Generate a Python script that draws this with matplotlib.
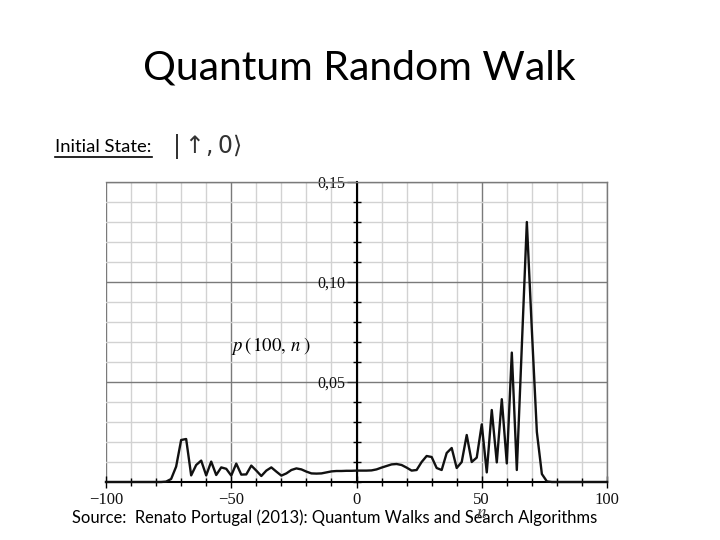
import matplotlib
matplotlib.use("Agg")
import matplotlib.pyplot as plt
from matplotlib.lines import Line2D
from matplotlib.ticker import MultipleLocator, FixedLocator, FixedFormatter

# ---- data ----
n_values = [-100, -98, -96, -94, -92, -90, -88, -86, -84, -82, -80, -78,
            -76, -74, -72, -70, -68, -66, -64, -62, -60, -58, -56, -54,
            -52, -50, -48, -46, -44, -42, -40, -38, -36, -34, -32, -30,
            -28, -26, -24, -22, -20, -18, -16, -14, -12, -10, -8, -6,
            -4, -2, 0, 2, 4, 6, 8, 10, 12, 14, 16, 18,
            20, 22, 24, 26, 28, 30, 32, 34, 36, 38, 40, 42,
            44, 46, 48, 50, 52, 54, 56, 58, 60, 62, 64, 66,
            68, 70, 72, 74, 76, 78, 80, 82, 84, 86, 88, 90,
            92, 94, 96, 98, 100]
p_values = [0.0, 0.0, 0.0, 0.0, 0.0, 0.0, 0.0, 0.0, 0.0, 0.0, 0.0, 0.0,
            0.0002, 0.0015, 0.0077, 0.0210, 0.0215, 0.0033, 0.0085, 0.0107, 0.0033, 0.0102, 0.0035, 0.0073,
            0.0066, 0.0032, 0.0092, 0.0037, 0.0038, 0.0082, 0.0057, 0.0030, 0.0057, 0.0073, 0.0052, 0.0032,
            0.0043, 0.0060, 0.0068, 0.0063, 0.0052, 0.0043, 0.0042, 0.0043, 0.0048, 0.0053, 0.0055, 0.0055,
            0.0056, 0.0056, 0.0057, 0.0057, 0.0057, 0.0058, 0.0063, 0.0072, 0.0080, 0.0088, 0.0090, 0.0085,
            0.0072, 0.0057, 0.0060, 0.0100, 0.0130, 0.0125, 0.0070, 0.0060, 0.0145, 0.0170, 0.0070, 0.0100,
            0.0235, 0.0100, 0.0122, 0.0288, 0.0048, 0.0360, 0.0098, 0.0414, 0.0093, 0.0647, 0.0060, 0.0680,
            0.1300, 0.0760, 0.0250, 0.0040, 0.0003, 0.0, 0.0, 0.0, 0.0, 0.0, 0.0, 0.0,
            0.0, 0.0, 0.0, 0.0, 0.0]
x_ticks = [-100, -50, 0, 50, 100]
x_tick_labels = ["\u2212100", "\u221250", "0", "50", "100"]
y_ticks = [0.05, 0.10, 0.15]
y_tick_labels = ["0,05", "0,10", "0,15"]

title = "Quantum Random Walk"
state_label = "Initial State:"
source = "Source:  Renato Portugal (2013): Quantum Walks and Search Algorithms"

W, H = 720, 540
fig = plt.figure(figsize=(7.2, 5.4), dpi=100)
fig.patch.set_facecolor("white")

x0, x1, y0, y1 = 106, 607, 182, 482
ax = fig.add_axes([x0 / W, 1 - y1 / H, (x1 - x0) / W, (y1 - y0) / H])
ax.set_xlim(-100, 100)
ax.set_ylim(0, 0.15)

# grid
ax.xaxis.set_major_locator(FixedLocator(x_ticks))
ax.xaxis.set_minor_locator(MultipleLocator(10))
ax.yaxis.set_major_locator(FixedLocator(y_ticks))
ax.yaxis.set_minor_locator(MultipleLocator(0.01))
ax.grid(which="minor", color="#d2d2d2", linewidth=1.0)
ax.grid(which="major", color="#7a7a7a", linewidth=1.0)
ax.set_axisbelow(True)

for s in ["top", "right"]:
    ax.spines[s].set_color("#7a7a7a")
    ax.spines[s].set_linewidth(1.0)
ax.spines["left"].set_position(("data", 0))
ax.spines["left"].set_color("black")
ax.spines["left"].set_linewidth(1.5)
ax.spines["bottom"].set_color("black")
ax.spines["bottom"].set_linewidth(1.5)

ax.xaxis.set_major_formatter(FixedFormatter(x_tick_labels))
ax.yaxis.set_major_formatter(FixedFormatter(y_tick_labels))

ax.tick_params(axis="x", which="major", direction="inout", length=8, width=1.0,
               color="black", labelsize=12, labelcolor="#111111", pad=3)
ax.tick_params(axis="both", which="minor", direction="inout", length=6, width=1.0, color="black")
ax.tick_params(axis="y", which="major", direction="out", length=7, width=1.0,
               color="#333333", labelsize=11.5, labelcolor="#111111", pad=1)
for lab in ax.get_xticklabels() + ax.get_yticklabels():
    lab.set_family("Liberation Serif")

# curve
ax.plot(n_values, p_values, color="#111111", linewidth=1.7, clip_on=False, zorder=5)

# axis label p(100, n)
ax.text(-34, 0.068, r"$p\,(\,100,\,n\;)$", fontsize=13.5, ha="center", va="center",
        math_fontfamily="stix")

# slide texts
fig.text(359 / W, 1 - 68 / H, title, fontsize=29.5, ha="center", va="center",
         family="Lato", color="black")
fig.text(55 / W, 1 - 147 / H, state_label, fontsize=13.3, ha="left", va="center",
         family="Lato", color="black")
fig.add_artist(Line2D([55 / W, 152 / W], [1 - 157 / H, 1 - 157 / H],
                      transform=fig.transFigure, color="black", linewidth=1.2))
fig.text(172 / W, 1 - 147 / H, r"$|\uparrow\!, 0\rangle$", fontsize=17, ha="left",
         va="center", color="#333333")
fig.text(72 / W, 1 - 518 / H, source, fontsize=11.9, ha="left", va="center",
         family="Lato", color="black", zorder=1)
# x axis label "n" drawn on top of the source line, as in the reference
fig.text(482 / W, 1 - 513 / H, r"$n$", fontsize=14, ha="center", va="center",
         math_fontfamily="stix", color="#444444", zorder=10)

fig.savefig("out.png", dpi=100)
